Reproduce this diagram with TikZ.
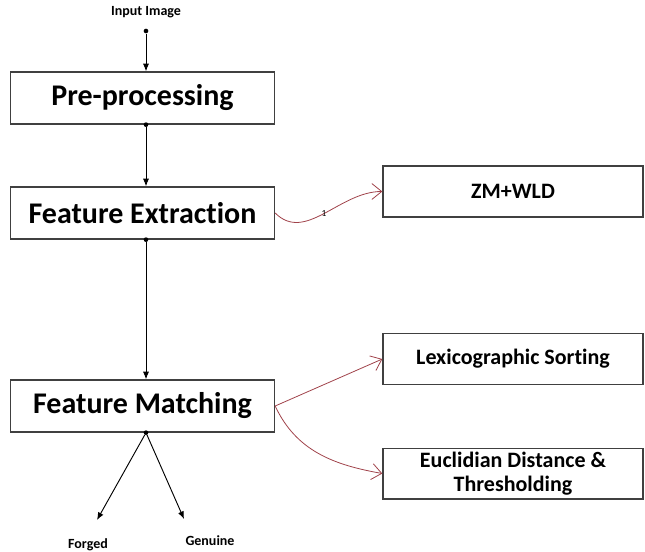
\documentclass[tikz,border=0pt]{standalone}
\usepackage{fontspec}
\setmainfont[Ligatures=NoCommon]{Carlito}
\usetikzlibrary{positioning,arrows.meta}
\definecolor{fcred}{HTML}{A0424A}
\definecolor{fcgray}{HTML}{404040}
\tikzset{
  stage/.style ={draw=fcgray, line width=1pt, minimum width=198pt, minimum height=39pt,
                 inner sep=0pt, font=\fontsize{22.5}{26}\selectfont\bfseries},
  method/.style={draw=fcgray, line width=1pt, minimum width=195pt, minimum height=38pt,
                 inner sep=0pt, align=center, font=\fontsize{16.5}{18}\selectfont\bfseries},
  tag/.style   ={font=\fontsize{10.5}{12}\selectfont\bfseries},
  jdot/.style  ={circle, fill=black, inner sep=0pt, minimum size=3.5pt},
  flow/.style  ={-{Latex[length=2mm,width=1.6mm]}, line width=0.7pt},
  link/.style  ={-{Straight Barb[length=2.6mm,width=4.2mm]}, draw=fcred, line width=0.6pt},
}

\begin{document}
\begin{tikzpicture}[x=0.75pt,y=-0.75pt]
  \useasboundingbox (0,0) rectangle (645,552);
  % main stages
  \node[tag] (input) at (146,12) {Input Image};
  \node[stage] (prep) at (142.5,98) {Pre-processing};
  \node[stage] (fext) at (142.5,213) {Feature Extraction};
  \node[stage] (fmatch) at (142.5,406) {Feature Matching};
  % methods
  \node[method] (zmwld) at (513,191.5) {ZM+WLD};
  \node[method] (lexsort) at (513,359) {Lexicographic Sorting};
  \node[method] (eucl) at (513,473.5) {Euclidian Distance \&\\Thresholding};
  % decisions
  \node[tag] (forged) at (88,545) {Forged};
  \node[tag] (genuine) at (210,541) {Genuine};
  \coordinate (ftip) at (97,520);
  \coordinate (gtip) at (184,519);
  % junction dots
  \node[jdot] (d0) at (146,31) {};
  \node[jdot] (d1) at (prep.south -| d0) {};
  \node[jdot] (d2) at (fext.south -| d0) {};
  \node[jdot] (d3) at (fmatch.south -| d0) {};
  % flow
  \draw[flow] (d0) -- (prep.north -| d0);
  \draw[flow] (d1) -- (fext.north -| d0);
  \draw[flow] (d2) -- (fmatch.north -| d0);
  \draw[flow] (d3) -- (ftip);
  \draw[flow] (d3) -- (gtip);
  % links to methods
  \draw[link] (fext.east) to[out=-45,in=180]
     node[pos=0.5, text=black, inner sep=0pt, font=\fontsize{7}{8}\selectfont] {1} (zmwld.west);
  \draw[link] (fmatch.east) -- (lexsort.west);
  \draw[link] (fmatch.east) to[out=-65,in=170] (eucl.west);
\end{tikzpicture}
\end{document}
